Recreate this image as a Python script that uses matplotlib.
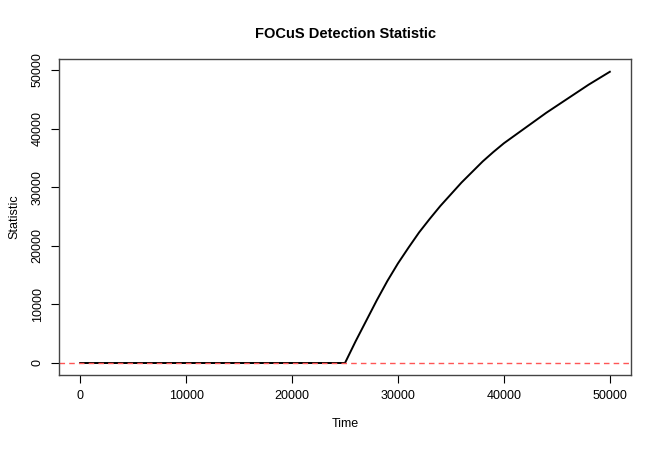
import numpy as np
import matplotlib
matplotlib.use("Agg")
import matplotlib.pyplot as plt

plt.rcParams['font.family'] = ['Liberation Sans', 'DejaVu Sans']

time = [0, 5000, 10000, 15000, 20000, 25000,
        26000, 27000, 28000, 29000, 30000, 31000, 32000, 33000, 34000, 35000,
        36000, 37000, 38000, 39000, 40000, 41000, 42000, 43000, 44000, 45000,
        46000, 47000, 48000, 49000, 50000]
stat = [0, 0, 0, 0, 0, 0,
        3700, 7200, 10700, 14000, 17000, 19700, 22300, 24600, 26800, 28800,
        30800, 32600, 34400, 36000, 37500, 38800, 40100, 41400, 42700, 43900,
        45100, 46300, 47500, 48600, 49700]
xticks = [0, 10000, 20000, 30000, 40000, 50000]
yticks = [0, 10000, 20000, 30000, 40000, 50000]

fig = plt.figure(figsize=(6.62, 4.49), dpi=100)
ax = fig.add_axes([0.0891, 0.1648, 0.8641, 0.7038])

ax.plot(time, stat, color='black', lw=1.4)
ax.axhline(0, color='#ff5555', lw=1, ls=(0, (4, 3)))

ax.set_xlim(-2000, 52000)
ax.set_ylim(-2050, 51880)
ax.set_xticks(xticks)
ax.set_yticks(yticks)
ax.set_yticklabels([str(v) for v in yticks], rotation=90, va='center')
ax.tick_params(direction='out', length=6, width=0.8, labelsize=9, pad=5)

for s in ax.spines.values():
    s.set_color('#444444')
    s.set_linewidth(1)

ax.set_title('FOCuS Detection Statistic', fontsize=10.5, fontweight='bold', pad=15)
ax.set_xlabel('Time', fontsize=9, labelpad=11)
ax.set_ylabel('Statistic', fontsize=9, labelpad=8)

fig.savefig('out.png', dpi=100)
